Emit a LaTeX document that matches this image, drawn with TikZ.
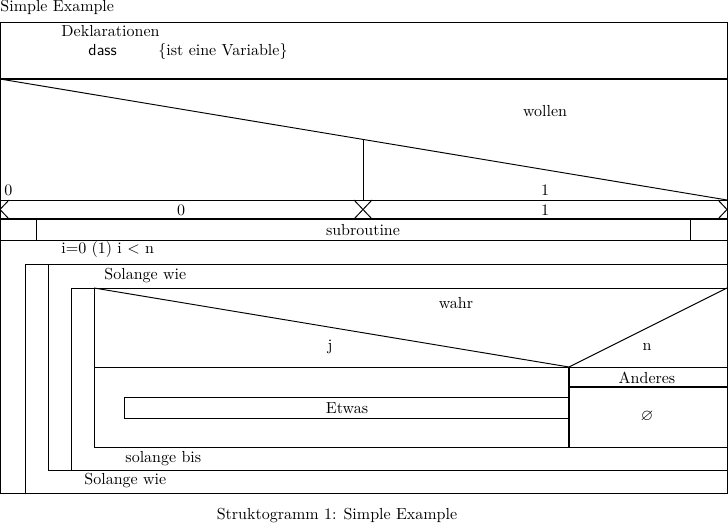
\documentclass[tikz,border=0pt]{standalone}
\usepackage{amssymb}
\usepackage{amsmath}
\usepackage{tikz}

\begin{document}
\begin{tikzpicture}[x=0.625pt,y=-0.625pt,
  line width=0.6pt,
  bar/.style={line width=1.3pt},
  lbl/.style={inner sep=0pt},
  lblw/.style={inner sep=0pt,anchor=base west}]
\useasboundingbox (0,0) rectangle (728,523);
\node[lblw] (title) at (0,11.5) {Simple Example};
% outer frame and declarations
\draw (0,22) rectangle (727,493);
\node[lblw] (dekl) at (61,36.5) {Deklarationen};
\node[lblw] (var) at (88,56) {\textsf{dass}};
\node[lblw] (varcom) at (158,56) {\{ist eine Variable\}};
\draw[bar] (0,79) -- (727,79);
% case block
\draw (0,79) -- (727,200);
\draw (363,139.4) -- (363,200);
\node[lbl] (cond) at (545,111) {wollen};
\node[lblw] (caseA) at (4,196) {0};
\node[lbl,anchor=base] (caseB) at (545,196) {1};
\draw (0,200) -- (727,200);
\begin{scope}
\clip (0,200) rectangle (727,219);
\foreach \cx in {0,363,727} {
  \draw (\cx-9,200) -- (\cx+9,219);
  \draw (\cx-9,219) -- (\cx+9,200);
}
\end{scope}
\node[lbl] (rowA) at (181,210) {0};
\node[lbl] (rowB) at (545,210) {1};
\draw[bar] (0,219) -- (727,219);
% subroutine
\draw (36,219) -- (36,240);
\draw (690,219) -- (690,240);
\node[lbl] (sub) at (363,230) {subroutine};
\draw (0,240) -- (727,240);
% counting loop
\node[lbl,anchor=west] (forhead) at (61,250) {i=0 (1) i $<$ n};
\draw (25,493) -- (25,264) -- (727,264);
\node[lbl,anchor=west] (repfoot) at (84,481) {Solange wie};
\draw (48,264) -- (48,470) -- (727,470);
\node[lbl,anchor=west] (whilehead) at (104,276) {Solange wie};
\draw (71,470) -- (71,288) -- (727,288);
\node[lbl,anchor=west] (untilfoot) at (125,459) {solange bis};
\draw (94,288) -- (94,447) -- (727,447);
% if block
\draw (94,288) -- (569,367) -- (727,288);
\draw (94,367) -- (727,367);
\node[lbl] (ifcond) at (456,303) {wahr};
\node[lbl] (yes) at (330,347) {j};
\node[lbl] (no) at (647,347) {n};
\draw[bar] (569,367) -- (569,447);
\draw[bar] (569,387) -- (727,387);
\node[lbl] (other) at (647,378) {Anderes};
\node[lbl] (empty) at (647,417) {$\varnothing$};
\draw (124,397) rectangle (569,418);
\node[lbl] (stmt) at (347,408) {Etwas};
\node[lbl] (caption) at (337,516) {Struktogramm 1: Simple Example};
\end{tikzpicture}
\end{document}
